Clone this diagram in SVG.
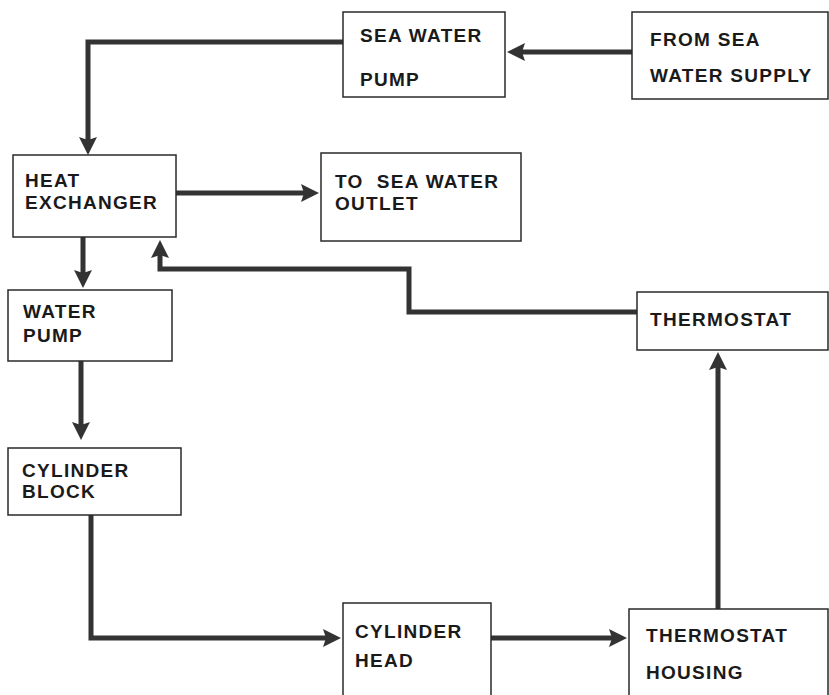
<svg xmlns="http://www.w3.org/2000/svg" width="829" height="695" viewBox="0 0 829 695">
<defs>
<marker id="ah" markerUnits="userSpaceOnUse" viewBox="0 0 18 18" refX="8" refY="9" markerWidth="18" markerHeight="18" orient="auto">
<path d="M0,0 L18,9 L0,18 L3,9 Z" fill="#333"/>
</marker>
<style>
.box{fill:#fff;stroke:#2a2a2a;stroke-width:1.5}
.lbl{font-family:"Liberation Sans",Arial,sans-serif;font-weight:bold;font-size:19px;letter-spacing:1.3px;fill:#1a1a1a}
.con{fill:none;stroke:#333;stroke-width:5;stroke-linejoin:miter;marker-end:url(#ah)}
</style>
</defs>
<rect width="829" height="695" fill="#fff"/>
<g id="connectors">
<path class="con" d="M632,52 L517,52"/>
<path class="con" d="M343,42 L88,42 L88,145"/>
<path class="con" d="M176,193 L309,193"/>
<path class="con" d="M83,237 L83,278"/>
<path class="con" d="M81,361 L81,430"/>
<path class="con" d="M91,515 L91,638 L331,638"/>
<path class="con" d="M491,638 L617,638"/>
<path class="con" d="M718,609 L718,362"/>
<path class="con" d="M637,312 L409,312 L409,269 L160,269 L160,250"/>
</g>
<g id="sea_water_pump">
<rect class="box" x="343" y="12" width="162" height="85"/>
<text class="lbl" x="360" y="42">SEA WATER</text>
<text class="lbl" x="360" y="86">PUMP</text>
</g>
<g id="from_sea_water_supply">
<rect class="box" x="632" y="12" width="196" height="87"/>
<text class="lbl" x="650" y="46">FROM SEA</text>
<text class="lbl" x="650" y="82">WATER SUPPLY</text>
</g>
<g id="heat_exchanger">
<rect class="box" x="13" y="155" width="163" height="82"/>
<text class="lbl" x="25" y="187">HEAT</text>
<text class="lbl" x="25" y="209">EXCHANGER</text>
</g>
<g id="sea_water_outlet">
<rect class="box" x="321" y="153" width="200" height="88"/>
<text class="lbl" x="335" y="188" xml:space="preserve">TO  SEA WATER</text>
<text class="lbl" x="335" y="210">OUTLET</text>
</g>
<g id="water_pump">
<rect class="box" x="8" y="290" width="164" height="71"/>
<text class="lbl" x="23" y="318">WATER</text>
<text class="lbl" x="23" y="342">PUMP</text>
</g>
<g id="thermostat">
<rect class="box" x="637" y="292" width="191" height="58"/>
<text class="lbl" x="650" y="326">THERMOSTAT</text>
</g>
<g id="cylinder_block">
<rect class="box" x="8" y="448" width="173" height="67"/>
<text class="lbl" x="22" y="477">CYLINDER</text>
<text class="lbl" x="22" y="498">BLOCK</text>
</g>
<g id="cylinder_head">
<rect class="box" x="343" y="603" width="148" height="100"/>
<text class="lbl" x="355" y="638">CYLINDER</text>
<text class="lbl" x="355" y="667">HEAD</text>
</g>
<g id="thermostat_housing">
<rect class="box" x="629" y="609" width="199" height="100"/>
<text class="lbl" x="646" y="642">THERMOSTAT</text>
<text class="lbl" x="646" y="679">HOUSING</text>
</g>
</svg>
